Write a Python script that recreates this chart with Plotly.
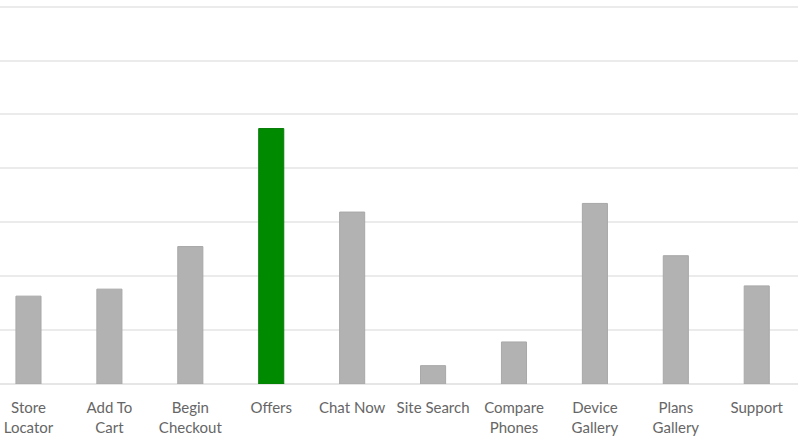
import plotly.graph_objects as go

categories = ["Store<br>Locator", "Add To<br>Cart", "Begin<br>Checkout", "Offers", "Chat Now",
              "Site Search", "Compare<br>Phones", "Device<br>Gallery", "Plans<br>Gallery", "Support"]
values = [1.63, 1.76, 2.55, 4.74, 3.19, 0.34, 0.78, 3.35, 2.38, 1.82]
highlight = "Offers"

gray = "#b2b2b2"
green = "#008a00"
colors = [green if c == highlight else gray for c in categories]
line_colors = ["#0a7d0a" if c == highlight else "#a8a8a8" for c in categories]

fig = go.Figure(go.Bar(
    x=list(range(len(categories))),
    y=values,
    width=0.31,
    marker=dict(color=colors, line=dict(color=line_colors, width=1)),
))

fig.update_layout(
    width=800, height=440,
    margin=dict(l=0, r=2, t=0, b=56),
    plot_bgcolor="white", paper_bgcolor="white",
    showlegend=False,
    font=dict(family="Lato, 'Open Sans', sans-serif", size=15, color="#666666"),
    xaxis=dict(
        tickmode="array",
        tickvals=list(range(len(categories))),
        ticktext=categories,
        range=[-0.352, 9.51],
        showgrid=False, zeroline=False, showline=False,
        ticks="", ticklabelstandoff=13,
    ),
    yaxis=dict(
        range=[0, 7.124],
        dtick=1, tick0=0,
        showgrid=True, gridcolor="#ebebeb", gridwidth=1.5,
        zeroline=True, zerolinecolor="#e6e6e6", zerolinewidth=1.5,
        showticklabels=False, ticks="", showline=False,
    ),
)

fig.write_html("out.html", config={"displayModeBar": False},
               post_script="document.body.style.margin='0';")
